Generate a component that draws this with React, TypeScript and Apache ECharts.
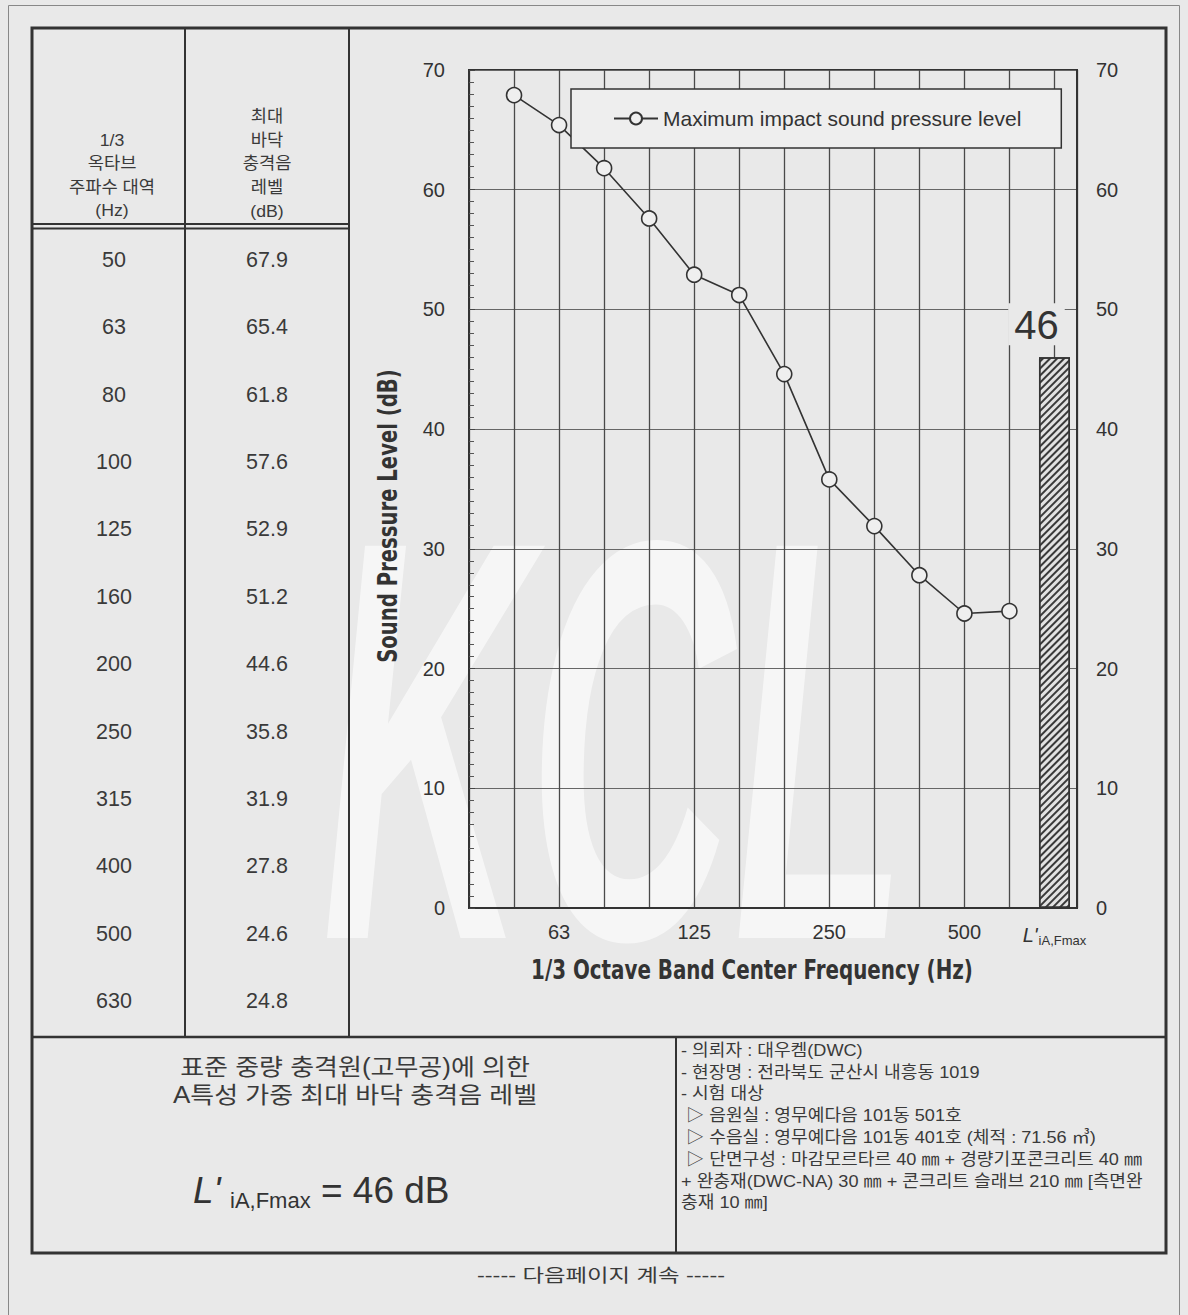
import React, { useEffect, useRef } from 'react';
import * as echarts from 'echarts';

// ---------- data ----------
const frequencies = ['50', '63', '80', '100', '125', '160', '200', '250', '315', '400', '500', '630'];
const levels = [67.9, 65.4, 61.8, 57.6, 52.9, 51.2, 44.6, 35.8, 31.9, 27.8, 24.6, 24.8];
const singleNumber = 46;
const labelledFrequencies = ['63', '125', '250', '500'];
const seriesName = 'Maximum impact sound pressure level';
const barName = "L'iA,Fmax";
const yAxisName = 'Sound Pressure Level (dB)';
const xAxisName = '1/3 Octave Band Center Frequency (Hz)';
const headerFreq = ['1/3', '옥타브', '주파수 대역', '(Hz)'];
const headerLevel = ['최대', '바닥', '충격음', '레벨', '(dB)'];
const descLines = ['표준 중량 충격원(고무공)에 의한', 'A특성 가중 최대 바닥 충격음 레벨'];
const infoLines = [
  '- 의뢰자 : 대우켐(DWC)',
  '- 현장명 : 전라북도 군산시 내흥동 1019',
  '- 시험 대상',
  ' ▷ 음원실 : 영무예다음 101동 501호',
  ' ▷ 수음실 : 영무예다음 101동 401호 (체적 : 71.56 ㎥)',
  ' ▷ 단면구성 : 마감모르타르 40 ㎜ + 경량기포콘크리트 40 ㎜',
  '+ 완충재(DWC-NA) 30 ㎜ + 콘크리트 슬래브 210 ㎜ [측면완',
  '충재 10 ㎜]',
];
const footer = '----- 다음페이지 계속 -----';

// ---------- styling ----------
const FONT = "'Liberation Sans', Arial, 'Noto Sans CJK KR', sans-serif";
const NARROW = "'Liberation Sans Narrow', 'DejaVu Sans Condensed', 'Liberation Sans', sans-serif";
const INK = '#333';
const BG = '#e9e9e9';

function line(x1: number, y1: number, x2: number, y2: number, w = 2) {
  return { type: 'line', silent: true, z: 10, shape: { x1, y1, x2, y2 }, style: { stroke: INK, lineWidth: w } };
}
function text(t: string, x: number, y: number, size: number, extra: any = {}, scaleX = 1) {
  return {
    type: 'text', silent: true, z: 10, x, y, scaleX,
    style: { text: t, fontSize: size, fontFamily: FONT, fill: '#3a3a3a', align: 'center', verticalAlign: 'middle', ...extra },
  };
}

function buildGraphics() {
  const els: any[] = [];
  // watermark
  els.push({
    type: 'text', silent: true, z: -10, x: 322, y: 455, scaleX: 0.5,
    style: { text: 'KCL', fontSize: 570, fontWeight: 'bold', fontStyle: 'italic', fontFamily: FONT, fill: 'rgba(255,255,255,0.6)', verticalAlign: 'top' },
  });
  // page border
  els.push({ type: 'rect', silent: true, z: 10, shape: { x: 8.5, y: 5.5, width: 1171, height: 1400 }, style: { fill: 'none', stroke: '#888', lineWidth: 1 } });
  // main box
  els.push({ type: 'rect', silent: true, z: 10, shape: { x: 32, y: 28, width: 1134, height: 1225 }, style: { fill: 'none', stroke: INK, lineWidth: 3 } });
  els.push(line(185, 28, 185, 1037, 2));
  els.push(line(349, 28, 349, 1037, 2));
  els.push(line(32, 224, 349, 224, 2));
  els.push(line(32, 228.5, 349, 228.5, 2));
  els.push(line(32, 1037, 1166, 1037, 2.5));
  els.push(line(676, 1037, 676, 1253, 2));
  // header
  headerFreq.forEach((t, i) => els.push(text(t, 112, 140 + i * 23.5, 17, {}, 1.04)));
  headerLevel.forEach((t, i) => els.push(text(t, 267, 116 + i * 23.8, 17, {}, 1.04)));
  // table rows
  const rowTop = 226;
  const rowH = 67.4;
  frequencies.forEach((f, i) => {
    const y = rowTop + rowH * (i + 0.5);
    els.push(text(f, 114, y, 21.5));
    els.push(text(levels[i].toFixed(1), 267, y, 21.5));
  });
  // description
  descLines.forEach((t, i) => els.push(text(t, 355, 1067 + i * 28, 23, {}, 1.13)));
  els.push({
    type: 'text', silent: true, z: 10, x: 193, y: 1190,
    style: {
      text: `{L|L'}{s|iA,Fmax}{n| = ${singleNumber} dB}`,
      fontFamily: FONT, fill: '#333', verticalAlign: 'middle', align: 'left',
      rich: {
        L: { fontSize: 37, fontStyle: 'italic', fontFamily: FONT, fill: '#333', width: 37 },
        s: { fontSize: 22, fontFamily: FONT, fill: '#333', padding: [20, 0, 0, 0] },
        n: { fontSize: 37, fontFamily: FONT, fill: '#333' },
      },
    },
  });
  // info box
  infoLines.forEach((t, i) => els.push(text(t, 681, 1050 + i * 21.8, 16.5, { align: 'left' }, 1.1)));
  // footer
  els.push(text(footer, 601, 1276, 18, {}, 1.3));
  // axis names
  els.push({
    type: 'text', silent: true, z: 10, x: 388, y: 516, rotation: Math.PI / 2, scaleX: 0.84,
    style: { text: yAxisName, fontSize: 26, fontWeight: 'bold', fontFamily: NARROW, fill: INK, align: 'center', verticalAlign: 'middle' },
  });
  els.push({
    type: 'text', silent: true, z: 10, x: 752, y: 970, scaleX: 0.85,
    style: { text: xAxisName, fontSize: 26, fontWeight: 'bold', fontFamily: NARROW, fill: INK, align: 'center', verticalAlign: 'middle' },
  });
  return els;
}

function buildOption(): any {
  const barPos = frequencies.length + 1;
  return {
    animation: false,
    backgroundColor: BG,
    graphic: { elements: buildGraphics() },
    legend: {
      data: [seriesName],
      left: 571, top: 89,
      padding: [19, 40, 19, 42],
      backgroundColor: '#eeeeee',
      borderColor: INK, borderWidth: 1.5, borderRadius: 0,
      itemWidth: 44, itemHeight: 15, itemGap: 5,
      textStyle: { fontSize: 21, color: INK, fontFamily: FONT },
      selectedMode: false,
    },
    grid: {
      left: 469, top: 70, width: 608, height: 838,
      show: true, borderColor: INK, borderWidth: 2, backgroundColor: 'transparent',
    },
    xAxis: {
      type: 'value', min: 0, max: frequencies.length + 1.5, interval: 1,
      axisLine: { show: true, onZero: false, lineStyle: { color: INK, width: 2 } },
      axisTick: { show: false },
      splitLine: { show: true, lineStyle: { color: '#4a4a4a', width: 1.3 } },
      axisLabel: {
        margin: 14, fontSize: 20, color: INK, fontFamily: FONT, showMaxLabel: false,
        formatter: (v: number) => {
          if (v === barPos) return "{L|L'}{s|iA,Fmax}";
          if (!Number.isInteger(v)) return '';
          const f = frequencies[v - 1];
          return f && labelledFrequencies.includes(f) ? f : '';
        },
        rich: {
          L: { fontSize: 20, fontStyle: 'italic', fontFamily: FONT, color: INK },
          s: { fontSize: 13, fontFamily: FONT, color: INK, padding: [12, 0, 0, 1] },
        },
      },
    },
    yAxis: [
      {
        type: 'value', min: 0, max: 70, interval: 10, position: 'left',
        axisLine: { show: true, lineStyle: { color: INK, width: 2 } },
        axisTick: { show: true, inside: true, length: 6, lineStyle: { color: '#444' } },
        minorTick: { show: true, splitNumber: 10, length: 5, lineStyle: { color: '#555' } },
        splitLine: { show: true, lineStyle: { color: '#666', width: 1 } },
        axisLabel: { margin: 24, fontSize: 20, color: INK, fontFamily: FONT },
      },
      {
        type: 'value', min: 0, max: 70, interval: 10, position: 'right',
        axisLine: { show: true, lineStyle: { color: INK, width: 2 } },
        axisTick: { show: false },
        splitLine: { show: false },
        axisLabel: { margin: 19, fontSize: 20, color: INK, fontFamily: FONT },
      },
    ],
    series: [
      {
        type: 'line', name: seriesName, z: 3,
        data: levels.map((v, i) => [i + 1, v]),
        symbol: 'circle', symbolSize: 15,
        lineStyle: { color: INK, width: 1.6 },
        itemStyle: { color: '#efefef', borderColor: INK, borderWidth: 1.6 },
      },
      {
        type: 'bar', name: barName, z: 2,
        data: [[barPos, singleNumber]],
        barWidth: 31,
        itemStyle: {
          color: '#e2e2e2', borderColor: INK, borderWidth: 1.5,
          decal: {
            symbol: 'rect', symbolSize: 1, dashArrayX: [1, 0], dashArrayY: [1.6, 2.6],
            rotation: -Math.PI / 4, color: '#3a3a3a', backgroundColor: '#e2e2e2',
          },
        },
        label: {
          show: true, position: 'top', distance: 12, offset: [-18, 0],
          formatter: (p: any) => String(p.value[1]),
          fontSize: 40, color: INK, fontFamily: FONT,
          backgroundColor: BG, padding: [2, 6, 0, 6],
        },
      },
    ],
  };
}

export default function App() {
  const ref = useRef<HTMLDivElement>(null);
  useEffect(() => {
    if (!ref.current) return;
    const chart = echarts.init(ref.current, null, { renderer: 'svg' });
    chart.setOption(buildOption());
    return () => chart.dispose();
  }, []);
  return <div ref={ref} style={{ position: 'absolute', left: 0, top: 0, width: 1188, height: 1315 }} />;
}
